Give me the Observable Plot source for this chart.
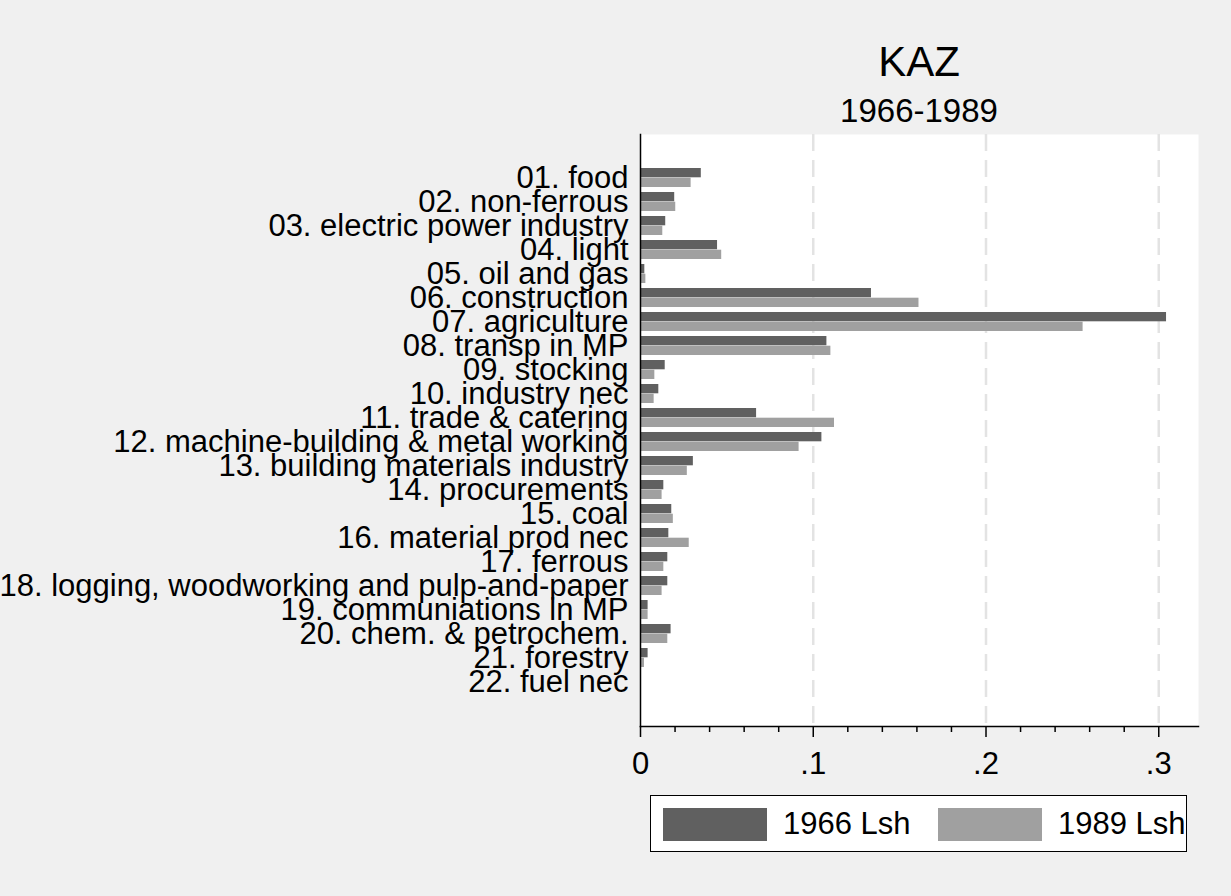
<!DOCTYPE html>
<html>
<head>
<meta charset="utf-8">
<script src="https://cdn.jsdelivr.net/npm/d3@7"></script>
<script src="https://cdn.jsdelivr.net/npm/@observablehq/plot@0.6"></script>
<style>
  html, body { margin: 0; padding: 0; background: #f0f0f0; }
  #wrap { position: relative; width: 1231px; height: 896px; font-family: "Liberation Sans", Arial, Helvetica, sans-serif; color: #000; overflow: hidden; }
  #head { position: relative; height: 120px; }
  .t { position: absolute; left: 640px; width: 558px; text-align: center; white-space: nowrap; }
  #legend { position: absolute; left: 650px; top: 795px; width: 535px; height: 55px; background: #fff; border: 1.5px solid #000; }
  .sw { position: absolute; top: 12px; width: 104px; height: 33px; }
  .lt { position: absolute; top: 9px; font-size: 31px; line-height: 38px; white-space: nowrap; }
</style>
</head>
<body>
<div id="wrap">
  <div id="head">
    <div class="t" id="title" style="top:41px;font-size:42px;line-height:42px;">KAZ</div>
    <div class="t" id="subtitle" style="top:94px;font-size:33px;line-height:33px;">1966-1989</div>
  </div>
  <div id="chart"></div>
  <div id="legend"></div>
</div>
<script>
const categories = [
  "01. food", "02. non-ferrous", "03. electric power industry", "04. light",
  "05. oil and gas", "06. construction", "07. agriculture", "08. transp in MP",
  "09. stocking", "10. industry nec", "11. trade & catering",
  "12. machine-building & metal working", "13. building materials industry",
  "14. procurements", "15. coal", "16. material prod nec", "17. ferrous",
  "18. logging, woodworking and pulp-and-paper", "19. communiations in MP",
  "20. chem. & petrochem.", "21. forestry", "22. fuel nec"
];
const lsh1966 = [0.0352, 0.0198, 0.0146, 0.0446, 0.0025, 0.1337, 0.3045, 0.1079, 0.0143, 0.0106, 0.0672, 0.1050, 0.0306, 0.0135, 0.0181, 0.0164, 0.0158, 0.0158, 0.0044, 0.0177, 0.0044, 0];
const lsh1989 = [0.0293, 0.0204, 0.0129, 0.0470, 0.0031, 0.1612, 0.2562, 0.1102, 0.0083, 0.0079, 0.1123, 0.0918, 0.0271, 0.0125, 0.0190, 0.0282, 0.0135, 0.0125, 0.0044, 0.0158, 0.0023, 0];
const seriesNames = ["1966 Lsh", "1989 Lsh"];
const seriesColors = ["#606060", "#a0a0a0"];
const xMajorTicks = [0, 0.1, 0.2, 0.3];
const xMinorTicks = [0.02, 0.04, 0.06, 0.08, 0.12, 0.14, 0.16, 0.18, 0.22, 0.24, 0.26, 0.28];
const xMax = 0.323;

const rows = categories.map((c, i) => ({cat: c, v66: lsh1966[i], v89: lsh1989[i]}));
const fmt = d => d === 0 ? "0" : d3.format(".1f")(d).replace(/^0/, "");

const chart = Plot.plot({
  width: 1231,
  height: 670,
  marginLeft: 640,
  marginRight: 33,
  marginTop: 14,
  marginBottom: 64,
  style: {background: "transparent", fontFamily: "'Liberation Sans', Arial, Helvetica, sans-serif", fontSize: "31px", color: "#000"},
  x: {domain: [0, xMax]},
  y: {domain: categories, type: "band", paddingInner: 0.198, paddingOuter: 1.33, align: 0.5},
  marks: [
    Plot.frame({fill: "#fff", stroke: null}),
    Plot.ruleX(xMajorTicks.filter(d => d > 0), {stroke: "#e3e3e3", strokeWidth: 2.5, strokeDasharray: "17,9"}),
    Plot.barX(rows, {x: "v66", y: "cat", fill: seriesColors[0], insetBottom: 9.7}),
    Plot.barX(rows, {x: "v89", y: "cat", fill: seriesColors[1], insetTop: 9.7}),
    Plot.frame({anchor: "bottom", stroke: "#000", strokeWidth: 1.5}),
    Plot.frame({anchor: "left", stroke: "#000", strokeWidth: 1.5}),
    Plot.axisX({ticks: xMinorTicks, tickSize: 6, tickFormat: () => "", strokeWidth: 1.5}),
    Plot.axisX({ticks: xMajorTicks, tickSize: 11, tickPadding: 14, tickFormat: fmt, fontSize: 31, strokeWidth: 1.5, label: null}),
    Plot.axisY({tickSize: 0, tickPadding: 12, fontSize: 31, label: null})
  ]
});
document.getElementById("chart").appendChild(chart);

const legend = document.getElementById("legend");
const swLeft = [12, 287];
const txtLeft = [132, 407];
seriesNames.forEach((name, i) => {
  const sw = document.createElement("div");
  sw.className = "sw";
  sw.style.left = swLeft[i] + "px";
  sw.style.background = seriesColors[i];
  legend.appendChild(sw);
  const t = document.createElement("div");
  t.className = "lt";
  t.style.left = txtLeft[i] + "px";
  t.textContent = name;
  legend.appendChild(t);
});
</script>
</body>
</html>
